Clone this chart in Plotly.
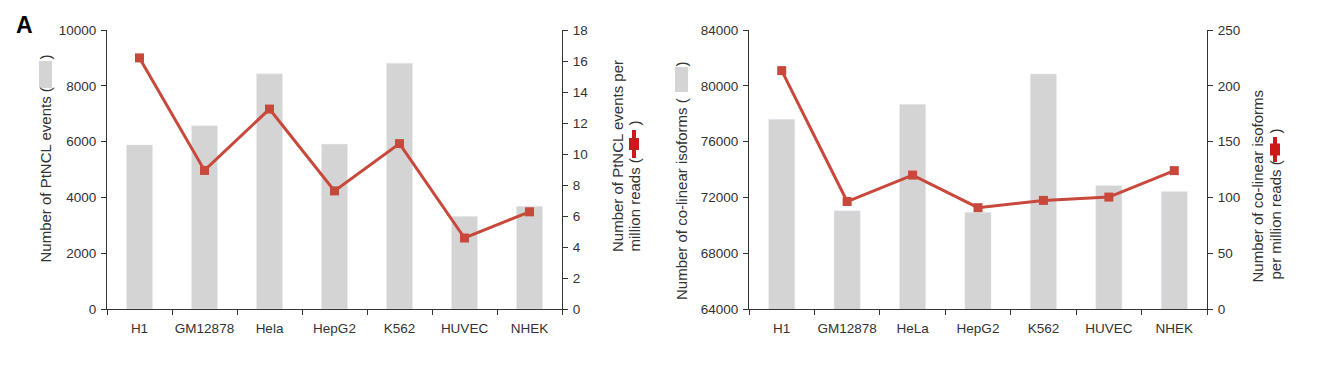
import plotly.graph_objects as go

cats_left = ["H1", "GM12878", "Hela", "HepG2", "K562", "HUVEC", "NHEK"]
ptncl_events = [5880, 6570, 8430, 5910, 8810, 3320, 3680]
ptncl_per_million = [16.2, 8.94, 12.9, 7.62, 10.67, 4.58, 6.27]

cats_right = ["H1", "GM12878", "HeLa", "HepG2", "K562", "HUVEC", "NHEK"]
colinear_isoforms = [77600, 71040, 78680, 70930, 80850, 72860, 72430]
colinear_per_million = [213.6, 96.3, 120.0, 90.8, 97.3, 100.3, 124.0]

W, H = 1320, 367
BAR = "#d4d4d4"
LINE = "#c9483c"
SYM = "#cc1818"
AX = "#333333"
FONT = "Liberation Sans, Arial, sans-serif"


def px(x):
    return x / W


def py(y):
    return 1 - y / H


fig = go.Figure()
fig.add_trace(go.Bar(x=cats_left, y=ptncl_events, marker_color=BAR, width=0.4,
                     xaxis="x", yaxis="y", showlegend=False, hoverinfo="skip"))
fig.add_trace(go.Scatter(x=cats_left, y=ptncl_per_million, mode="lines+markers",
                         line=dict(color=LINE, width=3),
                         marker=dict(symbol="square", size=9, color=LINE),
                         xaxis="x", yaxis="y2", showlegend=False, hoverinfo="skip"))
fig.add_trace(go.Bar(x=cats_right, y=colinear_isoforms, marker_color=BAR, width=0.4,
                     xaxis="x2", yaxis="y3", showlegend=False, hoverinfo="skip"))
fig.add_trace(go.Scatter(x=cats_right, y=colinear_per_million, mode="lines+markers",
                         line=dict(color=LINE, width=3),
                         marker=dict(symbol="square", size=9, color=LINE),
                         xaxis="x2", yaxis="y4", showlegend=False, hoverinfo="skip"))

ydom = [py(309), py(30)]
common_x = dict(type="category", tickson="boundaries", ticks="outside", ticklen=5,
                tickcolor=AX, showline=True, linecolor=AX, linewidth=1,
                showgrid=False, zeroline=False, tickangle=0, automargin=False,
                ticklabelstandoff=7,
                tickfont=dict(size=13.5, color=AX, family=FONT))
common_y = dict(ticks="outside", ticklen=5, tickcolor=AX, showline=True,
                linecolor=AX, linewidth=1, showgrid=False, zeroline=False,
                automargin=False, ticklabelstandoff=2,
                tickformat="d", tickfont=dict(size=13.5, color=AX, family=FONT))

fig.update_layout(
    width=W, height=H, autosize=False,
    margin=dict(l=0, r=0, t=0, b=0, pad=0, autoexpand=False),
    paper_bgcolor="white", plot_bgcolor="white",
    font=dict(family=FONT, color=AX),
    bargap=0.6,
    xaxis=dict(domain=[px(107), px(562)], anchor="y", **common_x),
    yaxis=dict(domain=ydom, anchor="x", range=[0, 10000], dtick=2000, **common_y),
    yaxis2=dict(overlaying="y", side="right", anchor="x", range=[0, 18], dtick=2, **common_y),
    xaxis2=dict(domain=[px(749), px(1207)], anchor="y3", **common_x),
    yaxis3=dict(domain=ydom, anchor="x2", range=[64000, 84000], dtick=4000, **common_y),
    yaxis4=dict(overlaying="y3", side="right", anchor="x2", range=[0, 250], dtick=50, **common_y),
)

TF = dict(size=15, color=AX, family=FONT)
ann = []
ann.append(dict(text="<b>A</b>", x=px(24), y=py(25), xref="paper", yref="paper",
                showarrow=False, xanchor="center", yanchor="middle",
                font=dict(size=23, color="black", family=FONT)))


def rot(text, x, y, anchor):
    ann.append(dict(text=text, x=px(x), y=py(y), xref="paper", yref="paper",
                    showarrow=False, textangle=-90, xanchor="center", yanchor=anchor,
                    font=TF))


# left chart titles
rot("Number of PtNCL events (", 45, 265, "bottom")
rot(")", 45, 62, "bottom")
rot("Number of PtNCL events per", 617, 254, "bottom")
rot("million reads (", 634, 254, "bottom")
rot(")", 634, 128, "bottom")
# right chart titles
rot("Number of co-linear isoforms (", 681, 302, "bottom")
rot(")", 681, 69, "bottom")
rot("Number of co-linear isoforms", 1257, 285, "bottom")
rot("per million reads (", 1275, 282, "bottom")
rot(")", 1275, 136, "bottom")

shapes = []


def swatch(x0, x1, y0, y1):
    shapes.append(dict(type="rect", xref="paper", yref="paper", x0=px(x0), x1=px(x1),
                       y0=py(y1), y1=py(y0), fillcolor=BAR, line=dict(width=0)))


def sym(xc, y0, y1):
    shapes.append(dict(type="line", xref="paper", yref="paper", x0=px(xc), x1=px(xc),
                       y0=py(y1), y1=py(y0), line=dict(color=SYM, width=4)))
    ym = (y0 + y1) / 2
    shapes.append(dict(type="rect", xref="paper", yref="paper", x0=px(xc - 5), x1=px(xc + 5),
                       y0=py(ym + 6), y1=py(ym - 6), fillcolor=SYM, line=dict(width=0)))


swatch(39, 52, 61, 88)
swatch(675, 688, 67, 92)
sym(634, 130, 158)
sym(1275, 137, 162)

fig.update_layout(annotations=ann, shapes=shapes)
fig.write_html("out.html", config={"displayModeBar": False, "staticPlot": True},
               post_script="document.body.style.margin='0';document.body.style.overflow='hidden';")
